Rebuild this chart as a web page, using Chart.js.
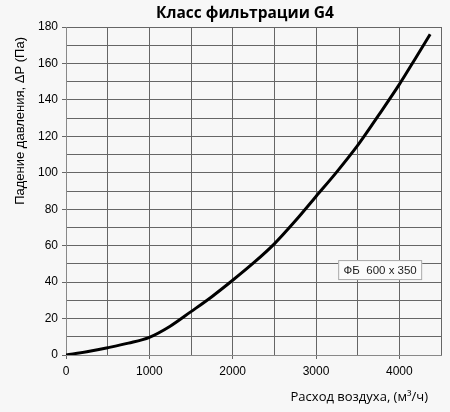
<!DOCTYPE html>
<html>
<head>
<meta charset="utf-8">
<script src="https://cdn.jsdelivr.net/npm/chart.js@4/dist/chart.umd.min.js"></script>
<style>
  html, body { margin: 0; padding: 0; background: #f7f7f7; }
  #wrap { width: 450px; height: 412px; }
</style>
</head>
<body>
<div id="wrap"><canvas id="chart"></canvas></div>
<script>
// расход воздуха, м3/ч
const flowValues = [0, 250, 500, 750, 1000, 1250, 1500, 1750, 2000, 2250, 2500, 2750, 3000, 3250, 3500, 3750, 4000, 4200, 4370];
// падение давления, Па
const pressureValues = [0, 1.8, 4, 6.5, 9.7, 15.8, 23.8, 32, 41, 50.5, 61, 73.5, 87, 100.5, 115, 131.5, 148.5, 163.3, 176];

const chartTitle = 'Класс фильтрации G4';
const xTitle = 'Расход воздуха, (м³/ч)';
const yTitle = 'Падение давления, ΔP (Па)';
const legendText = 'ФБ  600 x 350';
const legendPos = { x: 3770, y: 46.6 };

// заголовок, подписи осей и подпись ФБ в рамке
const extraText = {
  id: 'extraText',
  afterDatasetsDraw(chart) {
    const ctx = chart.ctx;
    const area = chart.chartArea;
    const cx = chart.scales.x.getPixelForValue(legendPos.x);
    const cy = chart.scales.y.getPixelForValue(legendPos.y);
    ctx.save();
    ctx.fillStyle = '#fbfbfb';
    ctx.strokeStyle = '#a8a8a8';
    ctx.lineWidth = 1;
    ctx.fillRect(cx - 42, cy - 10, 84, 20);
    ctx.strokeRect(cx - 41.5, cy - 9.5, 83, 19);
    ctx.fillStyle = '#222';
    ctx.font = '11.5px "Liberation Sans", Arial, sans-serif';
    ctx.textAlign = 'center';
    ctx.textBaseline = 'middle';
    ctx.fillText(legendText, cx, cy + 1);

    ctx.fillStyle = '#000';
    ctx.font = 'bold 15.5px "Open Sans", sans-serif';
    ctx.textAlign = 'center';
    ctx.fillText(chartTitle, 245, 14);

    ctx.font = '13px "Open Sans", sans-serif';
    ctx.textAlign = 'right';
    ctx.fillText(xTitle, area.right - 13, area.bottom + 42);

    ctx.font = '13px "Liberation Sans", Arial, sans-serif';
    ctx.translate(20, area.top + 10);
    ctx.rotate(-Math.PI / 2);
    ctx.textAlign = 'right';
    ctx.fillText(yTitle, 0, 0);
    ctx.restore();
  }
};

new Chart(document.getElementById('chart'), {
  type: 'line',
  data: {
    datasets: [{
      data: flowValues.map((x, i) => ({ x: x, y: pressureValues[i] })),
      borderColor: '#000',
      borderWidth: 3,
      pointRadius: 0,
      cubicInterpolationMode: 'monotone',
      fill: false
    }]
  },
  options: {
    responsive: true,
    maintainAspectRatio: false,
    animation: false,
    layout: { padding: { left: 0, right: 9, top: 27, bottom: 0 } },
    plugins: {
      legend: { display: false },
      tooltip: { enabled: false },
      title: { display: false }
    },
    scales: {
      x: {
        type: 'linear',
        min: 0,
        max: 4500,
        afterFit: (s) => { s.height = 57; },
        ticks: {
          stepSize: 500,
          autoSkip: false,
          maxRotation: 0,
          color: '#000',
          font: { family: '"Liberation Sans", Arial, sans-serif', size: 12 },
          padding: 5,
          callback: (v) => (v % 1000 === 0 ? String(v) : '')
        },
        grid: {
          color: '#666',
          lineWidth: 1,
          tickLength: 4,
          tickColor: (c) => (c.tick && c.tick.value % 1000 === 0 ? '#666' : 'rgba(0,0,0,0)')
        },
        border: { color: '#888', width: 1 }
      },
      y: {
        type: 'linear',
        min: 0,
        max: 180,
        afterFit: (s) => { s.width = 66; },
        ticks: {
          stepSize: 10,
          autoSkip: false,
          color: '#000',
          font: { family: '"Liberation Sans", Arial, sans-serif', size: 12 },
          padding: 4,
          callback: (v) => (v % 20 === 0 ? String(v) : '')
        },
        grid: {
          color: '#666',
          lineWidth: 1,
          tickLength: 4,
          tickColor: (c) => (c.tick && c.tick.value % 20 === 0 ? '#666' : 'rgba(0,0,0,0)')
        },
        border: { color: '#888', width: 1 }
      }
    }
  },
  plugins: [extraText]
});
</script>
</body>
</html>
